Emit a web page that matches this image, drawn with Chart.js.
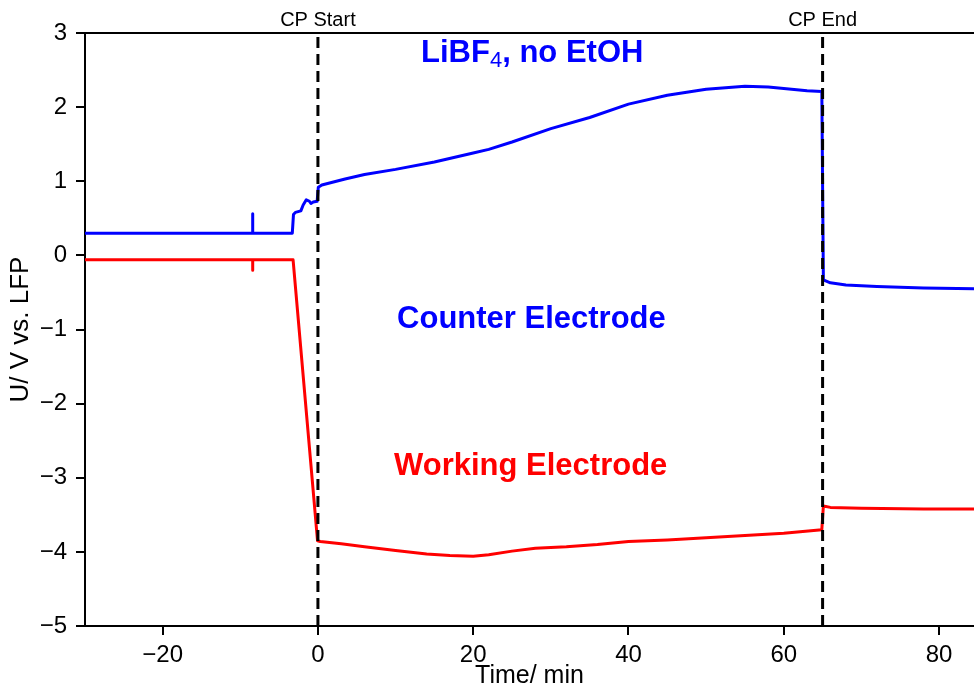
<!DOCTYPE html>
<html>
<head>
<meta charset="utf-8">
<script src="https://cdn.jsdelivr.net/npm/chart.js@4.4.0/dist/chart.umd.min.js"></script>
<style>
    html, body { margin: 0; padding: 0; background: #fff; }
    #wrap { width: 974px; height: 689px; }
</style>
</head>
<body>
<div id="wrap"><canvas id="chart" width="974" height="689"></canvas></div>
<script>
// Counter electrode (blue)
const counterTime = [-30, -8.4, -8.4, -8.4, -3.3, -3.15, -2.9, -2.2, -1.9, -1.5, -1.1, -0.9, -0.6, -0.1, 0.05, 0.5, 2, 3.5, 6, 10, 15, 20, 22, 25, 30, 35, 40, 45, 50, 55, 58, 61, 63, 64.9, 65.1, 66, 68, 72, 78, 84.5];
const counterU = [0.30, 0.30, 0.56, 0.30, 0.30, 0.55, 0.58, 0.60, 0.68, 0.75, 0.73, 0.70, 0.72, 0.73, 0.92, 0.95, 0.99, 1.03, 1.09, 1.16, 1.26, 1.38, 1.43, 1.53, 1.71, 1.86, 2.04, 2.16, 2.24, 2.28, 2.27, 2.24, 2.22, 2.21, -0.33, -0.37, -0.40, -0.42, -0.44, -0.45];

// Working electrode (red)
const workingTime = [-30, -8.4, -8.4, -8.4, -3.2, -0.05, 0.3, 3, 6, 10, 14, 17, 20, 22, 25, 28, 32, 36, 40, 45, 50, 55, 60, 64.9, 65.1, 66, 70, 78, 84.5];
const workingU = [-0.06, -0.06, -0.20, -0.06, -0.06, -3.85, -3.86, -3.89, -3.93, -3.98, -4.03, -4.05, -4.06, -4.04, -3.99, -3.95, -3.93, -3.90, -3.86, -3.84, -3.81, -3.78, -3.75, -3.70, -3.38, -3.40, -3.41, -3.42, -3.42];

// CP markers
const cpTimes = [0, 65];
const cpLabels = ['CP Start', 'CP End'];

const xTicks = [-20, 0, 20, 40, 60, 80];
const yTicks = [-5, -4, -3, -2, -1, 0, 1, 2, 3];

const FONT = "'Liberation Sans', Arial, sans-serif";
const minus = v => String(v).replace('-', '\u2212');

const toPoints = (xs, ys) => xs.map((x, i) => ({ x: x, y: ys[i] }));

// text labels inside the plot, anchored in data units (baseline, centered)
const notes = [
    { parts: [['LiBF', 'bold 31px'], ['4', '22px', 5], [', no EtOH', 'bold 31px']], x: 27.6, y: 2.61, color: '#0000ff' },
    { parts: [['Counter Electrode', 'bold 31px']], x: 27.5, y: -0.98, color: '#0000ff' },
    { parts: [['Working Electrode', 'bold 31px']], x: 27.4, y: -2.96, color: '#ff0000' }
];

const notesPlugin = {
    id: 'notes',
    afterDatasetsDraw(chart) {
        const ctx = chart.ctx;
        const xs = chart.scales.x, ys = chart.scales.y;
        ctx.save();
        ctx.textBaseline = 'alphabetic';
        ctx.textAlign = 'left';
        notes.forEach(n => {
            let total = 0;
            n.parts.forEach(p => {
                ctx.font = p[1] + ' ' + FONT;
                total += ctx.measureText(p[0]).width;
            });
            let px = xs.getPixelForValue(n.x) - total / 2;
            const py = ys.getPixelForValue(n.y);
            ctx.fillStyle = n.color;
            n.parts.forEach(p => {
                ctx.font = p[1] + ' ' + FONT;
                ctx.fillText(p[0], px, py + (p[2] || 0));
                px += ctx.measureText(p[0]).width;
            });
        });
        ctx.restore();
    }
};

const cpDatasets = cpTimes.map(t => ({
    label: 'cp' + t,
    data: [{ x: t, y: yTicks[0] }, { x: t, y: yTicks[yTicks.length - 1] }],
    borderColor: '#000',
    borderWidth: 3,
    borderDash: [11, 6],
    borderCapStyle: 'butt',
    pointRadius: 0,
    order: 0
}));

new Chart(document.getElementById('chart'), {
    type: 'line',
    data: {
        datasets: [
            ...cpDatasets,
            {
                label: 'Counter Electrode',
                data: toPoints(counterTime, counterU),
                borderColor: '#0000ff',
                borderWidth: 3,
                borderJoinStyle: 'round',
                pointRadius: 0,
                tension: 0,
                order: 1
            },
            {
                label: 'Working Electrode',
                data: toPoints(workingTime, workingU),
                borderColor: '#ff0000',
                borderWidth: 3,
                borderJoinStyle: 'round',
                pointRadius: 0,
                tension: 0,
                order: 1
            }
        ]
    },
    options: {
        responsive: false,
        animation: false,
        layout: { padding: 0 },
        plugins: {
            legend: { display: false },
            tooltip: { enabled: false }
        },
        scales: {
            x: {
                type: 'linear',
                position: 'bottom',
                min: -30,
                max: 84.5,
                afterBuildTicks: s => { s.ticks = xTicks.map(v => ({ value: v })); },
                afterFit: s => { s.height = 63; },
                ticks: {
                    autoSkip: false,
                    maxRotation: 0,
                    padding: 6,
                    color: '#000',
                    font: { family: FONT, size: 24 },
                    callback: v => minus(v)
                },
                grid: { drawOnChartArea: false, tickLength: 9, color: '#000', lineWidth: 2 },
                border: { color: '#000', width: 2 },
                title: {
                    display: true,
                    text: 'Time/ min',
                    color: '#000',
                    font: { family: FONT, size: 25 },
                    padding: { top: 0, bottom: -2 }
                }
            },
            x2: {
                type: 'linear',
                position: 'top',
                min: -30,
                max: 84.5,
                afterBuildTicks: s => { s.ticks = cpTimes.map(v => ({ value: v })); },
                afterFit: s => { s.height = 33; },
                ticks: {
                    autoSkip: false,
                    maxRotation: 0,
                    padding: 1,
                    color: '#000',
                    font: { family: FONT, size: 20 },
                    callback: v => cpLabels[cpTimes.indexOf(v)]
                },
                grid: { drawOnChartArea: false, drawTicks: false },
                border: { color: '#000', width: 2 }
            },
            y: {
                type: 'linear',
                min: -5,
                max: 3,
                afterBuildTicks: s => { s.ticks = yTicks.map(v => ({ value: v })); },
                afterFit: s => { s.width = 85; },
                ticks: {
                    padding: 9,
                    color: '#000',
                    font: { family: FONT, size: 24 },
                    callback: v => minus(v)
                },
                grid: { drawOnChartArea: false, tickLength: 9, color: '#000', lineWidth: 2 },
                border: { color: '#000', width: 2 },
                title: {
                    display: true,
                    text: 'U/ V vs. LFP',
                    color: '#000',
                    font: { family: FONT, size: 26 },
                    padding: { top: 5, bottom: 0 }
                }
            }
        }
    },
    plugins: [notesPlugin]
});
</script>
</body>
</html>
